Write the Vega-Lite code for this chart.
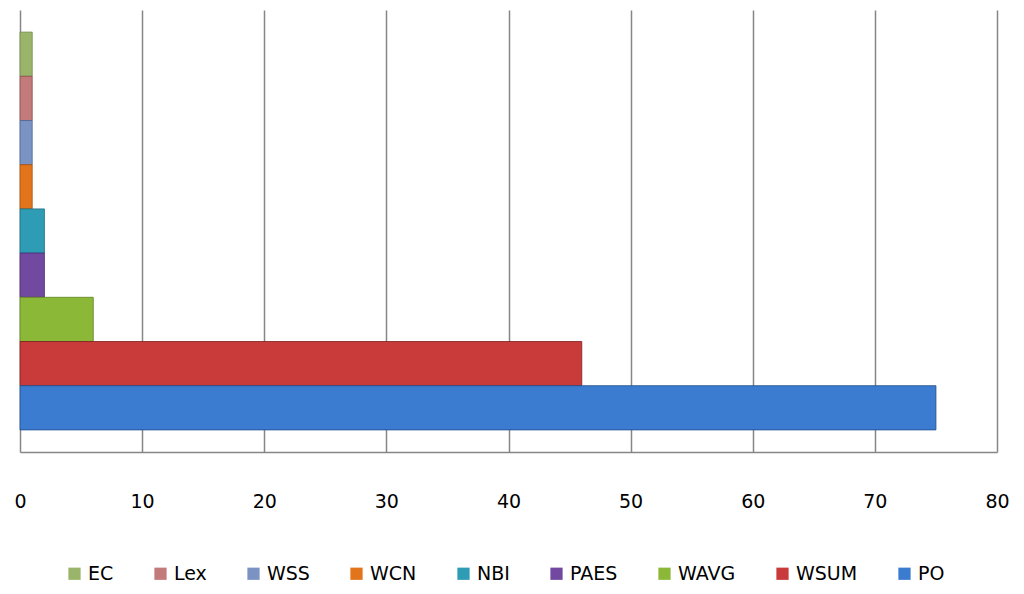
{
  "$schema": "https://vega.github.io/schema/vega-lite/v6.json",
  "autosize": "none",
  "width": 977,
  "height": 442,
  "padding": {"left": 20, "top": 10, "right": 27, "bottom": 142},
  "background": "white",
  "data": {
    "values": [
      {"series": "EC", "value": 1},
      {"series": "Lex", "value": 1},
      {"series": "WSS", "value": 1},
      {"series": "WCN", "value": 1},
      {"series": "NBI", "value": 2},
      {"series": "PAES", "value": 2},
      {"series": "WAVG", "value": 6},
      {"series": "WSUM", "value": 46},
      {"series": "PO", "value": 75}
    ]
  },
  "mark": {"type": "bar", "strokeWidth": 1, "strokeOpacity": 0.8},
  "encoding": {
    "y": {
      "field": "series",
      "type": "nominal",
      "sort": ["EC", "Lex", "WSS", "WCN", "NBI", "PAES", "WAVG", "WSUM", "PO"],
      "scale": {"paddingInner": 0, "paddingOuter": 0.5},
      "axis": null
    },
    "x": {
      "field": "value",
      "type": "quantitative",
      "scale": {"domain": [0, 80], "nice": false},
      "axis": {
        "values": [0, 10, 20, 30, 40, 50, 60, 70, 80],
        "title": null,
        "grid": true,
        "gridColor": "#868686",
        "gridWidth": 1.5,
        "domainColor": "#868686",
        "domainWidth": 1.5,
        "ticks": false,
        "labelPadding": 40,
        "labelFont": "DejaVu Sans",
        "labelFontSize": 19,
        "labelColor": "#000000",
        "labelFlush": false
      }
    },
    "color": {
      "field": "series",
      "type": "nominal",
      "sort": ["EC", "Lex", "WSS", "WCN", "NBI", "PAES", "WAVG", "WSUM", "PO"],
      "scale": {
        "domain": ["EC", "Lex", "WSS", "WCN", "NBI", "PAES", "WAVG", "WSUM", "PO"],
        "range": ["#9AB56A", "#C37A7A", "#7A93C3", "#E2741C", "#2F9CB5", "#7149A0", "#8CB838", "#C93B3B", "#3B7BD0"]
      },
      "legend": {
        "orient": "none",
        "legendX": 45,
        "legendY": 554,
        "direction": "horizontal",
        "title": null,
        "symbolType": "square",
        "symbolSize": 150,
        "symbolStrokeWidth": 0,
        "labelFont": "DejaVu Sans",
        "labelFontSize": 19,
        "labelColor": "#000000",
        "columnPadding": 37,
        "labelOffset": 4
      }
    },
    "stroke": {
      "field": "series",
      "type": "nominal",
      "scale": {
        "domain": ["EC", "Lex", "WSS", "WCN", "NBI", "PAES", "WAVG", "WSUM", "PO"],
        "range": ["#6E8848", "#8E4E4E", "#4E6896", "#A8520E", "#1E6E80", "#4E2E74", "#5E8222", "#7A1E1E", "#224E8A"]
      },
      "legend": null
    }
  },
  "config": {"view": {"stroke": null}}
}
